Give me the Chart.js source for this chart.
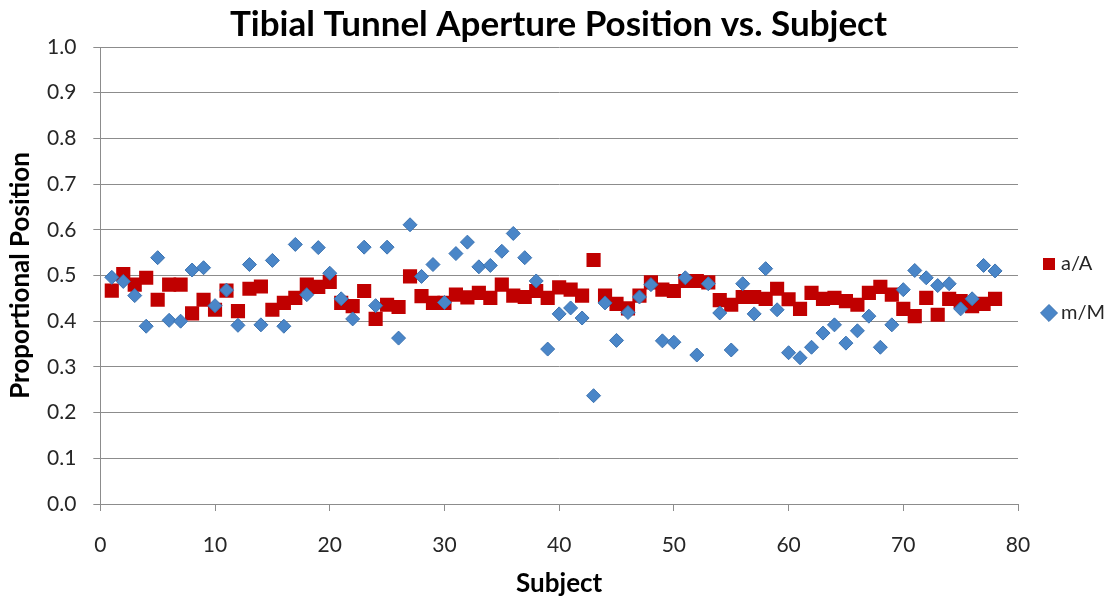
<!DOCTYPE html>
<html>
<head>
<meta charset="utf-8">
<script src="https://cdn.jsdelivr.net/npm/chart.js@4/dist/chart.umd.min.js"></script>
<style>
  html, body { margin: 0; padding: 0; background: #fff; }
  #wrap { width: 1115px; height: 600px; position: relative; }
</style>
</head>
<body>
<div id="wrap"><canvas id="tunnelChart"></canvas></div>
<script>
const subjects = [1, 2, 3, 4, 5, 6, 7, 8, 9, 10, 11, 12, 13, 14, 15, 16, 17, 18, 19, 20,
  21, 22, 23, 24, 25, 26, 27, 28, 29, 30, 31, 32, 33, 34, 35, 36, 37, 38, 39, 40,
  41, 42, 43, 44, 45, 46, 47, 48, 49, 50, 51, 52, 53, 54, 55, 56, 57, 58, 59, 60,
  61, 62, 63, 64, 65, 66, 67, 68, 69, 70, 71, 72, 73, 74, 75, 76, 77, 78]

// a/A
const aA = [0.467, 0.503, 0.480, 0.495, 0.447, 0.480, 0.480, 0.417, 0.447, 0.425,
  0.467, 0.422, 0.471, 0.476, 0.425, 0.440, 0.451, 0.480, 0.475, 0.486,
  0.440, 0.433, 0.466, 0.405, 0.436, 0.431, 0.498, 0.455, 0.440, 0.440,
  0.458, 0.452, 0.462, 0.451, 0.480, 0.456, 0.453, 0.466, 0.451, 0.474,
  0.469, 0.456, 0.534, 0.456, 0.438, 0.428, 0.456, 0.485, 0.469, 0.466,
  0.488, 0.488, 0.485, 0.446, 0.436, 0.453, 0.453, 0.449, 0.471, 0.448,
  0.427, 0.462, 0.449, 0.451, 0.444, 0.436, 0.462, 0.475, 0.458, 0.427,
  0.411, 0.451, 0.414, 0.449, 0.444, 0.433, 0.438, 0.449]

// m/M
const mM = [0.496, 0.487, 0.456, 0.389, 0.539, 0.402, 0.400, 0.512, 0.517, 0.434,
  0.468, 0.391, 0.524, 0.392, 0.533, 0.389, 0.568, 0.458, 0.561, 0.505,
  0.449, 0.405, 0.562, 0.434, 0.562, 0.363, 0.611, 0.498, 0.524, 0.441,
  0.548, 0.573, 0.519, 0.522, 0.553, 0.592, 0.539, 0.488, 0.339, 0.416,
  0.429, 0.407, 0.237, 0.440, 0.358, 0.419, 0.453, 0.480, 0.357, 0.354,
  0.495, 0.326, 0.482, 0.418, 0.337, 0.482, 0.416, 0.515, 0.425, 0.331,
  0.320, 0.343, 0.374, 0.392, 0.352, 0.379, 0.411, 0.343, 0.392, 0.469,
  0.511, 0.495, 0.478, 0.482, 0.427, 0.449, 0.522, 0.510]

const xTicks = [0, 10, 20, 30, 40, 50, 60, 70, 80]
const yTicks = [0, 0.1, 0.2, 0.3, 0.4, 0.5, 0.6, 0.7, 0.8, 0.9, 1.0]

const toPoints = vals => subjects.map((s, i) => ({ x: s, y: vals[i] }))

const gridGray = '#8c8c8c'
const textGray = '#262626'
const fontFam = 'Lato, "Open Sans", sans-serif'

const ctx = document.getElementById('tunnelChart')
new Chart(ctx, {
  type: 'scatter',
  data: {
    datasets: [{
      label: 'a/A',
      data: toPoints(aA),
      pointStyle: 'rect',
      pointRadius: 10,
      pointHoverRadius: 10,
      backgroundColor: '#c00000',
      borderColor: '#c00000',
      borderWidth: 0,
      order: 1
    }, {
      label: 'm/M',
      data: toPoints(mM),
      pointStyle: 'rectRot',
      pointRadius: 7,
      pointHoverRadius: 7,
      backgroundColor: '#4a86c8',
      borderColor: '#3b72b0',
      borderWidth: 1,
      order: 0
    }]
  },
  options: {
    responsive: true,
    maintainAspectRatio: false,
    animation: false,
    layout: { padding: { left: 2, right: 0, top: 0, bottom: 0 } },
    plugins: {
      tooltip: { enabled: false },
      title: {
        display: true,
        text: 'Tibial Tunnel Aperture Position vs. Subject',
        color: '#000',
        font: { family: fontFam, size: 35, weight: 'bold' },
        padding: { top: 4, bottom: 1 }
      },
      legend: {
        position: 'right',
        align: 'start',
        maxWidth: 97,
        // empty title only used to push the entries down to mid height
        title: {
          display: true,
          text: ' ',
          color: 'rgba(0,0,0,0)',
          font: { size: 10 },
          padding: { top: 213, bottom: 0 }
        },
        labels: {
          usePointStyle: true,
          boxWidth: 4,
          boxHeight: 12,
          color: textGray,
          font: { family: fontFam, size: 20 },
          padding: 29,
          sort: (a, b) => a.datasetIndex - b.datasetIndex
        }
      }
    },
    scales: {
      x: {
        type: 'linear',
        min: 0,
        max: 80,
        afterBuildTicks: axis => { axis.ticks = xTicks.map(v => ({ value: v })) },
        ticks: {
          color: textGray,
          font: { family: fontFam, size: 21 },
          padding: 22
        },
        grid: {
          drawOnChartArea: false,
          drawTicks: true,
          tickLength: 7,
          color: gridGray
        },
        border: { display: true, color: gridGray },
        title: {
          display: true,
          text: 'Subject',
          color: '#000',
          font: { family: fontFam, size: 26, weight: 'bold' },
          padding: { top: -12.4, bottom: 1 }
        }
      },
      y: {
        min: 0,
        max: 1,
        afterBuildTicks: axis => { axis.ticks = yTicks.map(v => ({ value: v })) },
        ticks: {
          color: textGray,
          font: { family: fontFam, size: 21 },
          padding: 17,
          callback: v => v.toFixed(1)
        },
        grid: {
          drawTicks: true,
          tickLength: 7,
          color: gridGray
        },
        border: { display: true, color: gridGray },
        title: {
          display: true,
          text: 'Proportional Position',
          color: '#000',
          font: { family: fontFam, size: 26, weight: 'bold' },
          padding: { top: 3.4, bottom: -6.6 }
        }
      }
    }
  }
})
</script>
</body>
</html>
